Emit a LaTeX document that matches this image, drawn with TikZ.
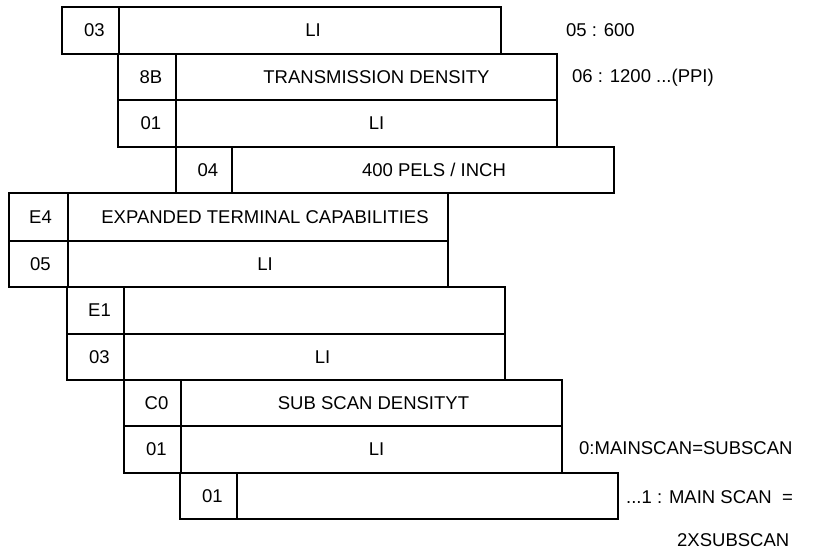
\documentclass[tikz,border=0pt]{standalone}
\usepackage{fontspec}
\setmainfont{Liberation Sans}
\begin{document}
\begin{tikzpicture}[x=1pt,y=-1pt,
  cellbox/.style={draw, line width=1.8pt, rectangle, anchor=north west, inner sep=0pt, outer sep=0pt},
  txt/.style={font=\fontsize{18.5}{20}\selectfont, inner sep=0pt},
  side/.style={font=\fontsize{18.5}{20}\selectfont, inner sep=0pt, anchor=west}]
\useasboundingbox (0,0) rectangle (823,552);
% cell macro: name, x, y, width, height
\newcommand\mycell[5]{\node[cellbox, minimum width=#4pt, minimum height=#5pt] (#1) at (#2,#3) {};}
% row 1
\mycell{a1}{62}{7}{57}{47}
\mycell{b1}{119}{7}{382}{47}
% row 2
\mycell{a2}{118}{54}{58}{46}
\mycell{b2}{176}{54}{381}{46}
% row 3
\mycell{a3}{118}{100}{58}{47}
\mycell{b3}{176}{100}{381}{47}
% row 4
\mycell{a4}{176}{147}{56}{46}
\mycell{b4}{232}{147}{382}{46}
% row 5
\mycell{a5}{9}{193}{59}{48}
\mycell{b5}{68}{193}{380}{48}
% row 6
\mycell{a6}{9}{241}{59}{46}
\mycell{b6}{68}{241}{380}{46}
% row 7
\mycell{a7}{67}{287}{57}{47}
\mycell{b7}{124}{287}{381}{47}
% row 8
\mycell{a8}{67}{334}{57}{46}
\mycell{b8}{124}{334}{381}{46}
% row 9
\mycell{a9}{124}{380}{57}{46}
\mycell{b9}{181}{380}{381}{46}
% row 10
\mycell{a10}{124}{426}{57}{47}
\mycell{b10}{181}{426}{381}{47}
% row 11
\mycell{a11}{180}{473}{57}{46}
\mycell{b11}{237}{473}{381}{46}
% texts
\node[txt] (ta1) at ([xshift=4pt]a1.center) {03};
\node[txt] (tb1) at ([xshift=3pt]b1.center) {LI};
\node[txt] (ta2) at ([xshift=4pt]a2.center) {8B};
\node[txt] (tb2) at ([xshift=10pt]b2.center) {TRANSMISSION DENSITY};
\node[txt] (ta3) at ([xshift=4pt]a3.center) {01};
\node[txt] (tb3) at ([xshift=10pt]b3.center) {LI};
\node[txt] (ta4) at ([xshift=4pt]a4.center) {04};
\node[txt] (tb4) at ([xshift=11pt]b4.center) {400 PELS / INCH};
\node[txt] (ta5) at ([xshift=2pt]a5.center) {E4};
\node[txt] (tb5) at ([xshift=7pt]b5.center) {EXPANDED TERMINAL CAPABILITIES};
\node[txt] (ta6) at ([xshift=2pt]a6.center) {05};
\node[txt] (tb6) at ([xshift=7pt]b6.center) {LI};
\node[txt] (ta7) at ([xshift=4pt]a7.center) {E1};
\node[txt] (ta8) at ([xshift=4pt]a8.center) {03};
\node[txt] (tb8) at ([xshift=8pt]b8.center) {LI};
\node[txt] (ta9) at ([xshift=4pt]a9.center) {C0};
\node[txt] (tb9) at ([xshift=2pt]b9.center) {SUB SCAN DENSITYT};
\node[txt] (ta10) at ([xshift=4pt]a10.center) {01};
\node[txt] (tb10) at ([xshift=5pt]b10.center) {LI};
\node[txt] (ta11) at ([xshift=4pt]a11.center) {01};
% side notes
\node[side] (s1) at (566,30) {05 : 600};
\node[side] (s2) at (572,78) {06 : 1200 ...(PPI)};
\node[side] (s3) at (579,448) {0:MAINSCAN=SUBSCAN};
\node[side] (s4) at (626,497) {...1 : MAIN SCAN\ \ =};
\node[side] (s5) at (677,540) {2XSUBSCAN};
\end{tikzpicture}
\end{document}
